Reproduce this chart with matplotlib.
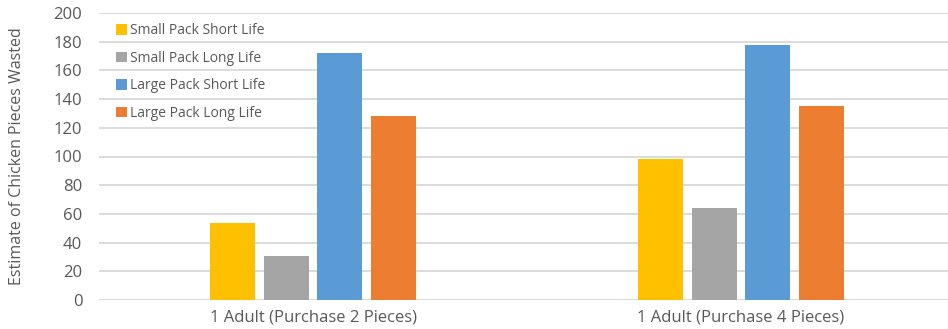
import numpy as np
import matplotlib.pyplot as plt

# Data ------------------------------------------------------------------------
groups = ["1 Adult (Purchase 2 Pieces)", "1 Adult (Purchase 4 Pieces)"]
series_names = ["Small Pack Short Life", "Small Pack Long Life",
                "Large Pack Short Life", "Large Pack Long Life"]
small_short = [54, 98]
small_long = [31, 64]
large_short = [172, 178]
large_long = [128, 135]
colors = ["#FFC000", "#A5A5A5", "#5B9BD5", "#ED7D31"]

# Plot ------------------------------------------------------------------------
plt.rcParams['font.family'] = ['Open Sans', 'DejaVu Sans']
text_col = "#595959"

fig = plt.figure(figsize=(9.48, 3.29), dpi=100)
# plot area runs slightly past the right edge of the figure
ax = fig.add_axes([99/948, 29/329, 856/948, 287/329])

x = np.arange(len(groups))
width = 0.105
step = 0.126
values = [small_short, small_long, large_short, large_long]
for i, (vals, name, c) in enumerate(zip(values, series_names, colors)):
    ax.bar(x + (i - 1.5)*step, vals, width, color=c, label=name, zorder=3)

ax.set_xlim(-0.5, 1.5)
ax.set_ylim(0, 200)
ax.set_yticks(range(0, 201, 20))
ax.set_xticks(x)
ax.set_xticklabels(groups)
ax.grid(axis='y', color="#D9D9D9", linewidth=1.3, zorder=0)
ax.tick_params(length=0, labelsize=12, colors=text_col)
ax.tick_params(axis='y', pad=12)
ax.tick_params(axis='x', pad=7)
for s in ax.spines.values():
    s.set_visible(False)
ax.axhline(0, color="#D9D9D9", linewidth=1.3, zorder=2)
ax.set_ylabel("Estimate of Chicken Pieces Wasted", fontsize=11.5, color=text_col)
ax.yaxis.set_label_coords(-0.087, 0.5)

leg = ax.legend(loc='upper left', bbox_to_anchor=(0.008, 1.0), frameon=False,
                fontsize=10, handlelength=0.75, handleheight=0.75, handletextpad=0.25,
                labelspacing=0.9, labelcolor=text_col, borderaxespad=0.35)

fig.savefig("out.png", dpi=100)
